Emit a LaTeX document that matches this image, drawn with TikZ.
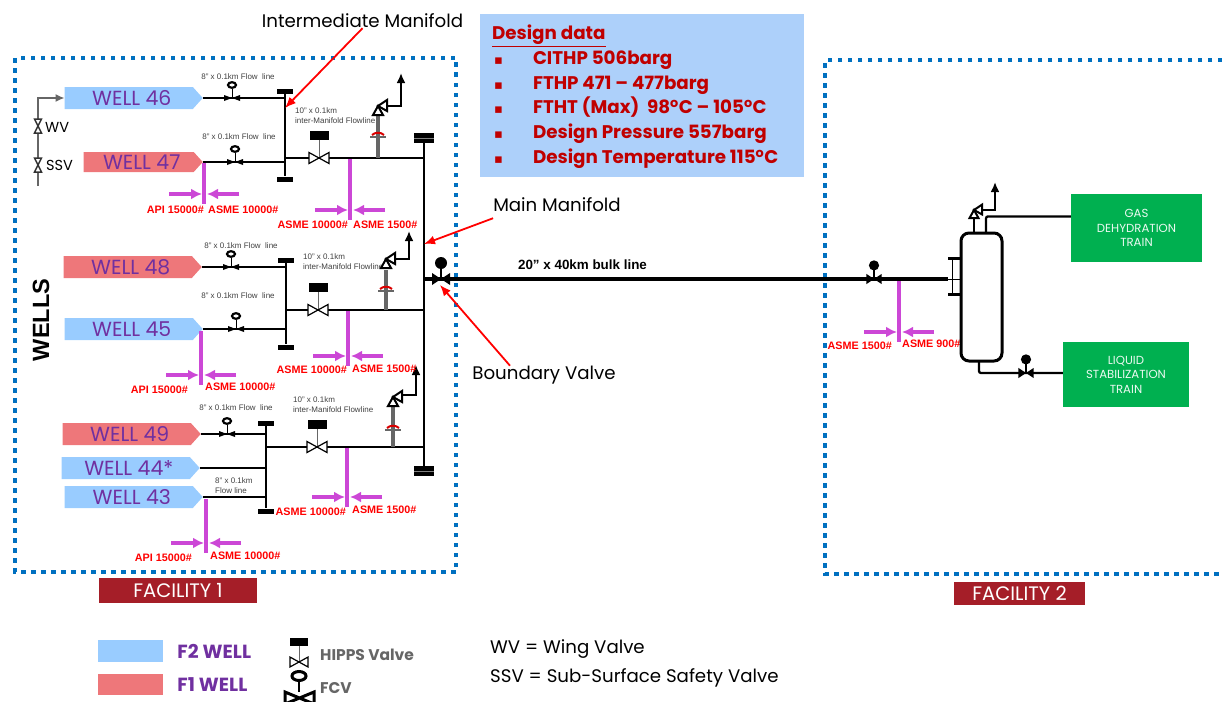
\documentclass[tikz,border=0pt]{standalone}
\usepackage{fontspec}
\setmainfont{Liberation Sans}
\newfontfamily\wellfont{Poppins}
\newfontfamily\symbfont{DejaVu Sans}
\usetikzlibrary{positioning,shapes,arrows.meta}
\definecolor{fbluewell}{RGB}{153,204,255}
\definecolor{fredwell}{RGB}{238,119,122}
\definecolor{wellpurple}{RGB}{112,48,160}
\definecolor{dotblue}{RGB}{0,112,192}
\definecolor{specpink}{RGB}{204,71,214}
\definecolor{trainred}{RGB}{165,30,40}
\definecolor{traingreen}{RGB}{0,176,80}
\definecolor{designblue}{RGB}{173,208,250}
\definecolor{designred}{RGB}{192,0,0}
\begin{document}
\begin{tikzpicture}[
		x=1pt,y=-1pt,
		wellnode/.style={signal,signal to=east,signal pointer angle=96,minimum width=138pt,minimum height=22pt,inner sep=0pt,text=wellpurple,font=\wellfont\fontsize{20.4}{22}\selectfont,execute at begin node={\hspace*{6pt}}},
		flowlabel/.style={inner sep=0pt,align=left,text=black!75,font=\fontsize{8}{10}\selectfont},
		speclabel/.style={inner sep=0pt,text=red,font=\bfseries\fontsize{10.8}{12}\selectfont},
		notelabel/.style={inner sep=0pt,font=\wellfont\fontsize{18.2}{20}\selectfont},
		trainbox/.style={fill=traingreen,text=white!92!traingreen,align=center,inner sep=0pt,font=\wellfont\fontsize{11.7}{14.5}\selectfont},
		facilitytag/.style={fill=trainred,text=white,inner sep=0pt,font=\wellfont\fontsize{19.5}{21}\selectfont},
		headercap/.style={fill=black,inner sep=0pt,minimum width=16pt,minimum height=5pt},
		maincap/.style={fill=black,inner sep=0pt,minimum width=20pt,minimum height=10pt,path picture={\draw[white!50!black,line width=1pt] (path picture bounding box.west) -- (path picture bounding box.east);}},
		pipe/.style={line width=2.3pt,black},
		bulkline/.style={line width=4pt,black},
		specline/.style={line width=3.5pt,specpink},
		specarrow/.style={line width=3.5pt,specpink,-{Latex[length=11pt,width=11pt]}},
		ventarrow/.style={pipe,-{Latex[length=10pt,width=9pt]}},
		callout/.style={line width=1.8pt,red,-{Latex[length=11pt,width=9pt]}},
		facilityborder/.style={line width=4pt,dotblue,dash pattern=on 4.5pt off 5.5pt},
		flowvalve/.pic={
			\fill[black] (-8,-3) -- (0,0) -- (-8,3) -- cycle (8,-3) -- (0,0) -- (8,3) -- cycle;
			\draw[black,line width=1pt] (0,0) -- (0,-9);
			\draw[black,line width=2.2pt] (0,-13) ellipse (4pt and 2.8pt);
		},
		hippsvalve/.pic={
			\draw[black,line width=1.2pt,fill=white] (-10,-5.5) -- (10,5.5) -- (10,-5.5) -- (-10,5.5) -- cycle;
			\draw[black!60,line width=1pt] (0,-1) -- (0,-18);
			\fill[black] (-9.5,-27) rectangle (9.5,-18);
		},
		blockvalve/.pic={
			\fill[black] (-9,-6) -- (0,0) -- (-9,6) -- cycle (9,-6) -- (0,0) -- (9,6) -- cycle;
			\draw[black,line width=1.5pt] (0,0) -- (0,-12);
			\fill[black] (0,-16) circle (6pt);
		},
		reliefvalve/.pic={
			\draw[black,line width=2pt,fill=white] (0,0) -- (-5,9) -- (5,9) -- cycle;
			\draw[black,line width=2pt,fill=white] (0,0) -- (9,-6) -- (9,5) -- cycle;
		},
		actuator/.pic={
			\draw[black!60,line width=2pt] (-8,3) -- (8,3);
			\draw[red!85!black,line width=2pt] (-6,1) .. controls (-3,-2) and (3,-2) .. (6,1);
		},
		tiearrows/.pic={
			\draw[specarrow] (-35,0) -- (-2,0);
			\draw[specarrow] (35,0) -- (3,0);
		},
		wingvalve/.pic={
			\draw[black!80,line width=1.5pt,fill=white] (-3.5,-7) -- (3.5,-7) -- (-3.5,7) -- (3.5,7) -- cycle;
		}
		]
		\useasboundingbox (0,0) rectangle (1222,701);
		% facility outlines
		\draw[facilityborder] (15,58) rectangle (456,572);
		\draw[facilityborder] (1222,60) -- (825,60) -- (825,574) -- (1222,574);
		\node[rotate=90,inner sep=0pt,font=\bfseries\fontsize{23.5}{25}\selectfont] (wells) at (41,320) {WELLS};

		\node[fill=designblue,minimum width=324pt,minimum height=163pt,inner sep=0pt] (designbox) at (642,95.5) {};
		\node[right=12pt of designbox.west,yshift=-1pt,inner sep=0pt,text=designred,font=\wellfont\bfseries\fontsize{18.3}{24.8}\selectfont] (designdata)
		{
			\begin{tabular}{@{}p{41pt}@{}l@{}}
				\multicolumn{2}{@{}l@{}}{\underline{Design data}} \\
				\hspace{2pt}{\symbfont\fontsize{13}{13}\selectfont ▪} & CITHP 506barg \\
				\hspace{2pt}{\symbfont\fontsize{13}{13}\selectfont ▪} & FTHP 471 – 477barg \\
				\hspace{2pt}{\symbfont\fontsize{13}{13}\selectfont ▪} & FTHT (Max)\ \ 98\textsuperscript{o}C – 105\textsuperscript{o}C \\
				\hspace{2pt}{\symbfont\fontsize{13}{13}\selectfont ▪} & Design Pressure 557barg \\
				\hspace{2pt}{\symbfont\fontsize{13}{13}\selectfont ▪} & Design Temperature 115\textsuperscript{o}C \\
			\end{tabular}
		};

		% wells
		\node[wellnode,fill=fbluewell,anchor=east] (well46) at (203,98) {WELL 46};
		\node[wellnode,fill=fredwell,anchor=east,minimum width=119pt,minimum height=20pt] (well47) at (203,162) {WELL 47};
		\node[wellnode,fill=fredwell,anchor=east] (well48) at (202,267) {WELL 48};
		\node[wellnode,fill=fbluewell,anchor=east] (well45) at (203,329) {WELL 45};
		\node[wellnode,fill=fredwell,anchor=east] (well49) at (201,434) {WELL 49};
		\node[wellnode,fill=fbluewell,anchor=east] (well44) at (200,468) {WELL 44*};
		\node[wellnode,fill=fbluewell,anchor=east] (well43) at (203,497) {WELL 43};

		% wing and sub-surface valves of well 46
		\coordinate (tree) at (38,186);
		\draw[line width=1.5pt,black!60,-{Latex[length=9pt,width=8pt]}] (tree) |- (well46.west);
		\pic at (38,126) {wingvalve};
		\pic at (38,165) {wingvalve};
		\node[inner sep=0pt,font=\wellfont\fontsize{14.5}{16}\selectfont,right=7pt of {(38,127)}] (wv) {WV};
		\node[inner sep=0pt,font=\wellfont\fontsize{14.5}{16}\selectfont,right=8pt of {(38,165)}] (ssv) {SSV};

		% intermediate manifolds
		\node[headercap] (onetop) at (285,91) {};
		\node[headercap] (onebot) at (285,179) {};
		\node[headercap] (twotop) at (286,260) {};
		\node[headercap] (twobot) at (286,347) {};
		\node[headercap] (threetop) at (266,423) {};
		\node[headercap] (threebot) at (266,511) {};
		\node[maincap] (maintop) at (424,138) {};
		\node[maincap] (mainbot) at (424,471) {};
		\path [pipe]
		(onetop) edge (onebot)
		(twotop) edge (twobot)
		(threetop) edge (threebot)
		(maintop) edge (mainbot)
		(well46.east) edge (well46.east -| onetop)
		(well47.east) edge (well47.east -| onetop)
		(well48.east) edge (well48.east -| twotop)
		(well45.east) edge (well45.east -| twotop)
		(well49.east) edge (well49.east -| threetop)
		(well44.east) edge (well44.east -| threetop)
		(well43.east) edge (well43.east -| threetop);
		\coordinate (onejoin) at (285,158);
		\coordinate (twojoin) at (286,310);
		\coordinate (threejoin) at (266,447);
		\path [pipe]
		(onejoin) edge (onejoin -| maintop)
		(twojoin) edge (twojoin -| maintop)
		(threejoin) edge (threejoin -| maintop);

		% valves on the flow lines
		\coordinate (valve46) at (232,98);
		\coordinate (valve47) at (235,162);
		\coordinate (valve48) at (231,267);
		\coordinate (valve45) at (236,329);
		\coordinate (valve49) at (227,434);
		\foreach \v in {46,47,48,45,49} \pic at (valve\v) {flowvalve};
		\node[flowlabel,above=18pt of valve46,xshift=6pt] (flow46) {8" x 0.1km Flow\ \ line};
		\node[flowlabel,above=22pt of valve47,xshift=4pt] (flow47) {8" x 0.1km Flow\ \ line};
		\node[flowlabel,above=18pt of valve48,xshift=10pt] (flow48) {8" x 0.1km Flow\ \ line};
		\node[flowlabel,above=30pt of valve45,xshift=2pt] (flow45) {8" x 0.1km Flow\ \ line};
		\node[flowlabel,above=23pt of valve49,xshift=9pt] (flow49) {8" x 0.1km Flow\ \ line};
		\node[flowlabel,anchor=west] (flow43) at (215,486) {8" x 0.1km\\Flow line};
		\node[flowlabel,anchor=west] (inter1) at (295,116) {10" x 0.1km\\inter-Manifold Flowline};
		\node[flowlabel,anchor=west] (inter2) at (303,262) {10" x 0.1km\\inter-Manifold Flowline};
		\node[flowlabel,anchor=west] (inter3) at (293,405) {10" x 0.1km\\inter-Manifold Flowline};

		% HIPPS and relief valves
		\pic at (319,158) {hippsvalve};
		\pic at (318,310) {hippsvalve};
		\pic at (317,447) {hippsvalve};
		\coordinate (relief1) at (378,106);
		\coordinate (relief2) at (386,259);
		\coordinate (relief3) at (393,397);
		\coordinate (vent1) at (401,73);
		\coordinate (vent2) at (409,231);
		\coordinate (vent3) at (416,365);
		\draw[line width=4pt,black!60] (relief1) ++(0,9) -- (378,158);
		\draw[line width=4pt,black!60] (relief2) ++(0,11) -- (386,310);
		\draw[line width=4pt,black!60] (relief3) ++(0,10) -- (393,447);
		\pic at (378,134) {actuator};
		\pic at (386,288) {actuator};
		\pic at (393,427) {actuator};
		\draw[ventarrow] (relief1) ++(8,0) -| (vent1);
		\draw[ventarrow] (relief2) ++(8,0) -| (vent2);
		\draw[ventarrow] (relief3) ++(8,-2) -| (vent3);
		\pic at (relief1) {reliefvalve};
		\pic at (relief2) {reliefvalve};
		\pic at (relief3) {reliefvalve};

		% spec breaks
		\coordinate (tie47) at (204,163);
		\coordinate (brk47) at (204,194);
		\coordinate (tie45) at (201,331);
		\coordinate (brk45) at (201,375);
		\coordinate (tie43) at (206,499);
		\coordinate (brk43) at (206,543);
		\coordinate (tieone) at (350,159);
		\coordinate (brkone) at (350,210);
		\coordinate (tietwo) at (348,311);
		\coordinate (brktwo) at (348,356);
		\coordinate (tiethree) at (347,448);
		\coordinate (brkthree) at (347,497);
		\coordinate (tiebulk) at (899,281);
		\coordinate (brkbulk) at (899,332);
		\foreach \b in {47,45,43,one,two,three,bulk} {
			\draw[specline] (tie\b) -- ([yshift=-10pt]brk\b);
			\pic at (brk\b) {tiearrows};
		}
		\node[speclabel,below left=12pt and 0pt of brk47] (api47) {API 15000\#};
		\node[speclabel,below right=12pt and 4pt of brk47] (asme47) {ASME 10000\#};
		\node[speclabel,below left=11pt and 13pt of brk45] (api45) {API 15000\#};
		\node[speclabel,below right=8pt and 4pt of brk45] (asme45) {ASME 10000\#};
		\node[speclabel,below left=11pt and 14pt of brk43] (api43) {API 15000\#};
		\node[speclabel,below right=9pt and 4pt of brk43] (asme43) {ASME 10000\#};
		\node[speclabel,below left=11pt and 2pt of brkone] (clsone) {ASME 10000\#};
		\node[speclabel,below right=11pt and 3pt of brkone] (hione) {ASME 1500\#};
		\node[speclabel,below left=10pt and 1pt of brktwo] (clstwo) {ASME 10000\#};
		\node[speclabel,below right=9pt and 4pt of brktwo] (hitwo) {ASME 1500\#};
		\node[speclabel,below left=11pt and 1pt of brkthree] (clsthree) {ASME 10000\#};
		\node[speclabel,below right=9pt and 5pt of brkthree] (hithree) {ASME 1500\#};
		\node[speclabel,below left=10pt and 7pt of brkbulk] (clsbulk) {ASME 1500\#};
		\node[speclabel,below right=8pt and 3pt of brkbulk] (hibulk) {ASME 900\#};

		% bulk line and plant
		\node[draw=black,line width=3pt,rounded corners=8pt,minimum width=41pt,minimum height=128pt,inner sep=0pt] (vessel) at (981.5,297) {};
		\node[fill=black,inner sep=0pt,minimum width=13pt,minimum height=3pt] (flangeup) at (954.5,258) {};
		\node[fill=black,inner sep=0pt,minimum width=13pt,minimum height=3pt] (flangedn) at (954.5,294) {};
		\draw[line width=1pt] (flangeup.center) ++(-2,0) -- ([xshift=-2pt]flangedn.center);
		\coordinate (mainjoin) at (424,279);
		\coordinate (flangein) at (948,279);
		\draw[bulkline] (mainjoin) -- (flangein);
		\draw[line width=1pt] (flangein) -- (flangein -| vessel.west);
		\pic at (441,279) {blockvalve};
		\pic[scale=0.85] at (874,279) {blockvalve};
		\node[inner sep=0pt,font=\bfseries\fontsize{13.4}{15}\selectfont] (bulk) at (582.5,265) {20” x 40km bulk line};

		\node[trainbox,minimum width=131pt,minimum height=68pt] (gas) at (1136.5,228) {GAS\\DEHYDRATION\\TRAIN};
		\node[trainbox,minimum width=126pt,minimum height=65pt] (liquid) at (1126,374.5) {LIQUID\\STABILIZATION\\TRAIN};
		\coordinate (gasnozzle) at (986,233);
		\coordinate (liquidnozzle) at (979,361);
		\draw[pipe,rounded corners=2pt] (gasnozzle) |- (gas.170);
		\draw[pipe,rounded corners=2pt] (liquidnozzle) |- (liquid.west |- 0,373);
		\pic[scale=0.85] at (1026,373) {blockvalve};
		\coordinate (reliefsep) at (974,210);
		\coordinate (ventsep) at (995,182);
		\draw[pipe] (974,233) -- (974,218);
		\draw[ventarrow] (reliefsep) ++(6,0) -| (ventsep);
		\pic[scale=0.9] at (reliefsep) {reliefvalve};

		% callouts
		\node[notelabel] (intermediate) at (362.5,21) {Intermediate Manifold};
		\node[notelabel] (mainlabel) at (557,205) {Main Manifold};
		\node[notelabel] (boundary) at (544,375) {Boundary Valve};
		\coordinate (onetee) at (285,108);
		\coordinate (mainpoint) at (424,244);
		\coordinate (boundarypoint) at (440,285);
		\draw[callout] (intermediate.south) -- (onetee);
		\draw[callout] ([yshift=-6pt]mainlabel.south west) -- (mainpoint);
		\draw[callout] ([xshift=-34pt]boundary.north) -- (boundarypoint);

		\node[facilitytag,minimum width=158pt,minimum height=25pt] (facility1) at (178,590.5) {FACILITY 1};
		\node[facilitytag,minimum width=131pt,minimum height=23pt] (facility2) at (1019.5,593.5) {FACILITY 2};

		% legend
		\node[fill=fbluewell,inner sep=0pt,minimum width=65pt,minimum height=22pt] (keyf2) at (130.5,651) {};
		\node[fill=fredwell,inner sep=0pt,minimum width=65pt,minimum height=21pt] (keyf1) at (130.5,684.5) {};
		\node[right=14pt of keyf2,inner sep=0pt,text=wellpurple,font=\wellfont\bfseries\fontsize{19}{21}\selectfont] (textf2) {F2 WELL};
		\node[right=14pt of keyf1,inner sep=0pt,text=wellpurple,font=\wellfont\bfseries\fontsize{19}{21}\selectfont] (textf1) {F1 WELL};
		\pic[scale=0.9] at (299,662) {hippsvalve};
		\draw[line width=3pt] (299,676) ellipse (7pt and 4.5pt);
		\draw[line width=1.2pt] (299,681) -- (299,692);
		\draw[line width=3pt,fill=white] (285,692) -- (314,704) -- (314,692) -- (285,704) -- cycle;
		\node[inner sep=0pt,text=black!60,font=\wellfont\bfseries\fontsize{15.5}{17}\selectfont,anchor=west] (hippskey) at (320,655) {HIPPS Valve};
		\node[inner sep=0pt,text=black!60,font=\wellfont\bfseries\fontsize{15.5}{17}\selectfont,anchor=west] (fcvkey) at (320,688) {FCV};
		\node[notelabel,anchor=west] (wvkey) at (490,649.5) {WV = Wing Valve};
		\node[notelabel,anchor=west] (ssvkey) at (490,677.5) {SSV = Sub-Surface Safety Valve};
	\end{tikzpicture}
\end{document}
